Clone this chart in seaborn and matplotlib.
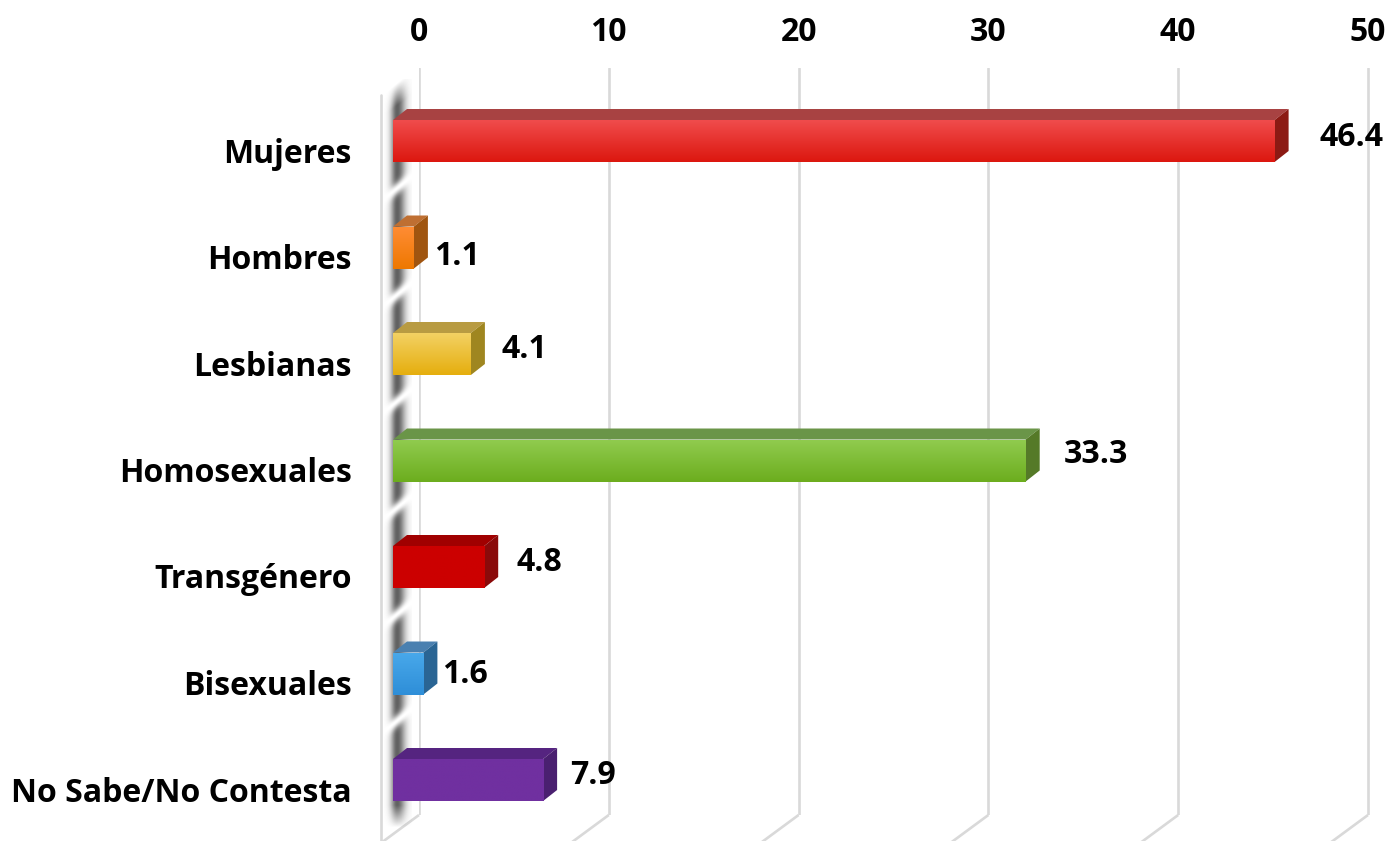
import numpy as np
import pandas as pd
import matplotlib
matplotlib.use("Agg")
import matplotlib.pyplot as plt
from matplotlib.colors import to_rgb
from matplotlib.patches import Polygon
import seaborn as sns

categories = ["Mujeres", "Hombres", "Lesbianas", "Homosexuales", "Transgénero", "Bisexuales", "No Sabe/No Contesta"]
values = [46.4, 1.1, 4.1, 33.3, 4.8, 1.6, 7.9]
value_labels = ["46.4", "1.1", "4.1", "33.3", "4.8", "1.6", "7.9"]
x_ticks = [0, 10, 20, 30, 40, 50]

face_top = ["#f04c4c", "#ff8c34", "#f3d163", "#90cb4e", "#cc0000", "#48a8ea", "#7030a0"]
face_bottom = ["#dc170f", "#ee7800", "#e5ae0e", "#6cad1e", "#cc0000", "#2e8ed8", "#7030a0"]
top_colors = ["#a84242", "#bf6f32", "#b89b42", "#6a9548", "#a00000", "#4a80b0", "#552480"]
side_colors = ["#8c1a14", "#a05510", "#9f8620", "#557a28", "#8a0a0a", "#2a6594", "#4a2070"]
label_dx = [31, 6, 17, 24, 18, 5, 13]
label_dy = [-4, 9, -5, -6, -5, 1, -5]

W, H = 1390, 841
sns.set_theme(style="white")
plt.rcParams["font.family"] = ["Open Sans", "DejaVu Sans"]
plt.rcParams["font.weight"] = "bold"
fig = plt.figure(figsize=(W / 100, H / 100), dpi=100, facecolor="white")

FONT = 23
GRID = "#d9d9d9"
PX_UNIT_BACK = (1368 - 419) / 50
PX_UNIT_FRONT = 19.0
ROW = 106.5
DEPTH_X, DEPTH_Y = 14, 11

# pixel-space decoration layer
deco = fig.add_axes([0, 0, 1, 1], zorder=0)
deco.axis("off")

# back wall: gridlines, tick labels, category labels
L, T, B = 419, 68, 815
back = fig.add_axes([L / W, 1 - B / H, (W - L) / W, (B - T) / H], zorder=1)
back.patch.set_alpha(0)
sns.despine(ax=back, left=True, bottom=True, top=True, right=True)
back.set_xlim(0, (W - L) / PX_UNIT_BACK)
back.set_ylim((B - 150) / ROW, (T - 150) / ROW)
back.xaxis.tick_top()
back.set_xticks(x_ticks)
back.set_xticklabels([str(t) for t in x_ticks], fontsize=FONT, fontweight="bold", color="black")
back.tick_params(axis="x", length=0, pad=14)
back.set_yticks(range(len(categories)))
back.set_yticklabels(categories, fontsize=FONT, fontweight="bold", color="black")
back.tick_params(axis="y", length=0, pad=67 * 0.72)
back.xaxis.grid(True, color=GRID, linewidth=1.9)
back.yaxis.grid(False)

# floor lines and wall edge, hung from the tick positions
deco.set_xlim(0, W)
deco.set_ylim(H, 0)
for t in x_ticks:
    px = L + t * PX_UNIT_BACK
    deco.plot([px, px - 38], [B, B + 28], color=GRID, lw=1.9, solid_capstyle="butt")
deco.plot([381, 381], [95, H], color=GRID, lw=1.9)

# wall shadow band
xs = np.arange(384, 412, 0.5)
ys = np.arange(80, 835, 0.5)
XX, YY = np.meshgrid(xs, ys)
a = np.where(XX < 397, np.exp(-((XX - 397) / 6.5) ** 2), np.exp(-((XX - 397) / 8.0) ** 2)) * 0.8
a *= np.clip((YY - 84 + 0.8 * (XX - 397)) / 22, 0, 1)
a *= np.clip((828 - YY) / 22, 0, 1)
for i in range(len(categories) - 1):
    yb = 141 + ROW * (i + 0.45)
    a *= 1 - np.exp(-(((YY - yb) + 0.8 * (XX - 397)) / 6.5) ** 2)
band = np.zeros(a.shape + (4,))
band[..., :3] = 0.22
band[..., 3] = a
deco.imshow(band, extent=(xs[0], xs[-1], ys[-1], ys[0]), aspect="auto", interpolation="bilinear", zorder=2)
deco.set_xlim(0, W)
deco.set_ylim(H, 0)

# front plane: bars
F = 393
CY = 141.0
front = fig.add_axes([F / W, 0, (W - F) / W, 1], zorder=2)
front.patch.set_alpha(0)
df = pd.DataFrame({"categoria": categories, "valor": values})
sns.barplot(data=df, x="valor", y="categoria", hue="categoria", palette=face_bottom, order=categories,
            hue_order=categories, dodge=False, legend=False, width=42 / ROW, saturation=1, linewidth=0, ax=front)
front.axis("off")

dx = DEPTH_X / PX_UNIT_FRONT
dy = DEPTH_Y / ROW
bars = sorted([p for p in front.patches if p.get_width() > 0], key=lambda p: p.get_y())
for i, p in enumerate(bars):
    x0, x1 = p.get_x(), p.get_x() + p.get_width()
    y0, y1 = p.get_y(), p.get_y() + p.get_height()
    p.set_edgecolor("none")
    front.add_patch(Polygon([(x0, y0), (x0 + dx, y0 - dy), (x1 + dx, y0 - dy), (x1, y0)],
                            closed=True, fc=top_colors[i], ec="none", zorder=3))
    front.add_patch(Polygon([(x1, y0), (x1 + dx, y0 - dy), (x1 + dx, y1 - dy), (x1, y1)],
                            closed=True, fc=side_colors[i], ec="none", zorder=3))
    c0, c1 = np.array(to_rgb(face_top[i])), np.array(to_rgb(face_bottom[i]))
    t = np.linspace(0, 1, 64)[:, None, None]
    grad = (c0[None, None, :] * (1 - t) + c1[None, None, :] * t)
    im = front.imshow(grad, extent=(x0, x1, y1, y0), aspect="auto", zorder=4, interpolation="bilinear")
    im.set_clip_path(p)
    p.set_zorder(2)
    front.annotate(value_labels[i], xy=(x1 + dx, i), xytext=(label_dx[i] * 0.72, -label_dy[i] * 0.72),
                   textcoords="offset points", ha="left", va="center", fontsize=FONT, fontweight="bold",
                   color="black", zorder=6, annotation_clip=False)
front.set_xlim(0, (W - F) / PX_UNIT_FRONT)
front.set_ylim((H - CY) / ROW, -CY / ROW)

fig.savefig("out.png", dpi=100, facecolor="white")
